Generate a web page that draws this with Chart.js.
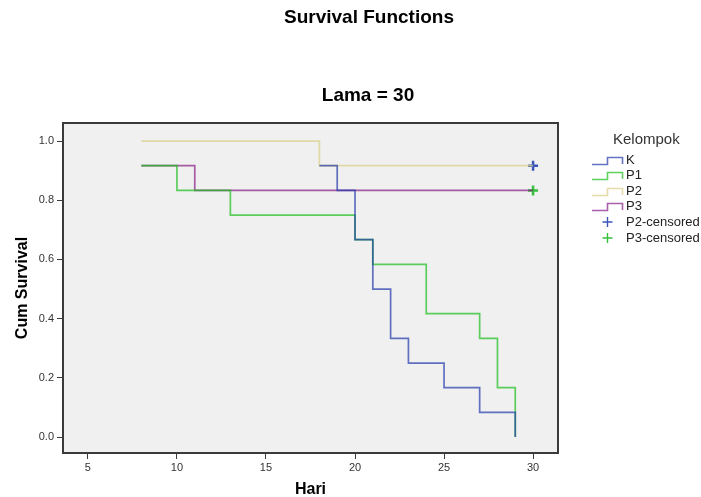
<!DOCTYPE html>
<html>
<head>
<meta charset="utf-8">
<script src="https://cdn.jsdelivr.net/npm/chart.js@4.4.1/dist/chart.umd.min.js"></script>
<style>
  body { margin: 0; background: #fff; font-family: "Liberation Sans", Arial, sans-serif; }
  #wrap { position: relative; width: 701px; height: 497px; }
  .head { position: absolute; left: 0; text-align: center; font-size: 19px; font-weight: bold; line-height: 22px; color: #000; white-space: nowrap; }
  .lg-title { position: absolute; left: 613px; top: 130px; font-size: 15px; color: #333; white-space: nowrap; }
  .lg-row { position: absolute; left: 592px; height: 14px; font-size: 13px; line-height: 14px; color: #222; white-space: nowrap; }
  .lg-row svg { position: absolute; left: 0; top: 1px; }
  .lg-row span { position: absolute; left: 34px; top: 0; }
</style>
</head>
<body>
<div id="wrap">
  <canvas id="km" width="701" height="497"></canvas>
  <div class="head" style="top:6px;width:738px;">Survival Functions</div>
  <div class="head" style="top:84px;width:736px;">Lama = 30</div>
  <div id="legend"></div>
</div>
<script>
const fontFamily = '"Liberation Sans", Arial, sans-serif';

// groups (Kelompok)
const groups = ['K', 'P1', 'P2', 'P3'];
const groupColors = ['rgba(34,57,171,0.7)', 'rgba(26,190,26,0.7)', 'rgba(219,209,140,0.75)', 'rgba(133,26,133,0.7)'];

// step points: day (Hari) and cumulative survival from that day on
const kDays  = [18, 19, 20, 21, 22, 23, 25, 27, 29];
const kSurv  = [0.9167, 0.8333, 0.6667, 0.5, 0.3333, 0.25, 0.1667, 0.0833, 0];
const p1Days = [8, 10, 13, 20, 21, 24, 27, 28, 29];
const p1Surv = [0.9167, 0.8333, 0.75, 0.6667, 0.5833, 0.4167, 0.3333, 0.1667, 0];
const p2Days = [8, 18, 30];
const p2Surv = [1, 0.9167, 0.9167];
const p3Days = [8, 11, 30];
const p3Surv = [0.9167, 0.8333, 0.8333];

// censored marks
const censorLabels = ['P2-censored', 'P3-censored'];
const censorDays   = [30, 30];
const censorSurv   = [0.9167, 0.8333];
const censorColors = ['#3a56b8', '#36c03c'];

const xTicks = [5, 10, 15, 20, 25, 30];
const yTicks = [0, 0.2, 0.4, 0.6, 0.8, 1.0];

function pts(days, surv) {
    return days.map((d, i) => ({ x: d, y: surv[i] }));
}

const allDays = [kDays, p1Days, p2Days, p3Days];
const allSurv = [kSurv, p1Surv, p2Surv, p3Surv];

const datasets = groups.map((g, i) => ({
    label: g,
    data: pts(allDays[i], allSurv[i]),
    borderColor: groupColors[i],
    borderWidth: 1.7,
    stepped: true,
    pointRadius: 0,
    fill: false
}));

censorLabels.forEach((lab, i) => {
    datasets.push({
        type: 'scatter',
        label: lab,
        data: [{ x: censorDays[i], y: censorSurv[i] }],
        pointStyle: 'cross',
        pointRadius: 5,
        borderWidth: 2.5,
        borderColor: censorColors[i],
        backgroundColor: censorColors[i]
    });
});

// plot background and frame
const framePlugin = {
    id: 'frame',
    beforeDraw(chart) {
        const a = chart.chartArea;
        const ctx = chart.ctx;
        ctx.save();
        ctx.fillStyle = '#f0f0f0';
        ctx.fillRect(a.left, a.top, a.right - a.left, a.bottom - a.top);
        ctx.restore();
    },
    afterDraw(chart) {
        const a = chart.chartArea;
        const ctx = chart.ctx;
        ctx.save();
        ctx.strokeStyle = '#3a3a3a';
        ctx.lineWidth = 2;
        ctx.strokeRect(a.left, a.top, a.right - a.left, a.bottom - a.top);
        ctx.restore();
    }
};

const axisCommon = {
    type: 'linear',
    grid: { drawOnChartArea: false, drawTicks: true, tickLength: 6, color: '#3a3a3a', lineWidth: 1 },
    border: { display: true, color: '#3a3a3a', width: 2 }
};

new Chart(document.getElementById('km'), {
    type: 'line',
    data: { datasets },
    options: {
        responsive: false,
        animation: false,
        layout: { padding: { top: 123, right: 143, left: 0, bottom: 0 } },
        plugins: {
            legend: { display: false },
            tooltip: { enabled: false }
        },
        scales: {
            x: {
                ...axisCommon,
                min: 3.6,
                max: 31.4,
                afterBuildTicks: s => { s.ticks = xTicks.map(v => ({ value: v })); },
                afterFit: s => { s.height = 44; },
                ticks: { padding: 2, color: '#333', font: { family: fontFamily, size: 11 } },
                title: {
                    display: true, text: 'Hari', color: '#000', padding: { top: 0, bottom: -1 },
                    font: { family: fontFamily, size: 16, weight: 'bold', lineHeight: 1 }
                }
            },
            y: {
                ...axisCommon,
                min: -0.054,
                max: 1.061,
                afterBuildTicks: s => { s.ticks = yTicks.map(v => ({ value: v })); },
                afterFit: s => { s.width = 63; },
                ticks: {
                    padding: 3, color: '#333', font: { family: fontFamily, size: 11 },
                    callback: v => v.toFixed(1)
                },
                title: {
                    display: true, text: 'Cum Survival', color: '#000', padding: { top: 15, bottom: 0 },
                    font: { family: fontFamily, size: 16, weight: 'bold', lineHeight: 1 }
                }
            }
        }
    },
    plugins: [framePlugin]
});

// legend
const legend = document.getElementById('legend');
const title = document.createElement('div');
title.className = 'lg-title';
title.textContent = 'Kelompok';
legend.appendChild(title);

const rowTops = [153, 168, 184, 199, 215, 231];
groups.forEach((g, i) => {
    const row = document.createElement('div');
    row.className = 'lg-row';
    row.style.top = rowTops[i] + 'px';
    row.innerHTML = '<svg width="32" height="12"><path d="M0 10.5 H15.5 V3.5 H30.5 V10" fill="none" stroke="' +
        groupColors[i] + '" stroke-width="1.6"/></svg><span>' + g + '</span>';
    legend.appendChild(row);
});
censorLabels.forEach((lab, i) => {
    const row = document.createElement('div');
    row.className = 'lg-row';
    row.style.top = rowTops[groups.length + i] + 'px';
    row.innerHTML = '<svg width="32" height="12"><path d="M15.5 1 V11 M10.5 6 H20.5" fill="none" stroke="' +
        censorColors[i] + '" stroke-width="1.4"/></svg><span>' + lab + '</span>';
    legend.appendChild(row);
});
</script>
</body>
</html>
